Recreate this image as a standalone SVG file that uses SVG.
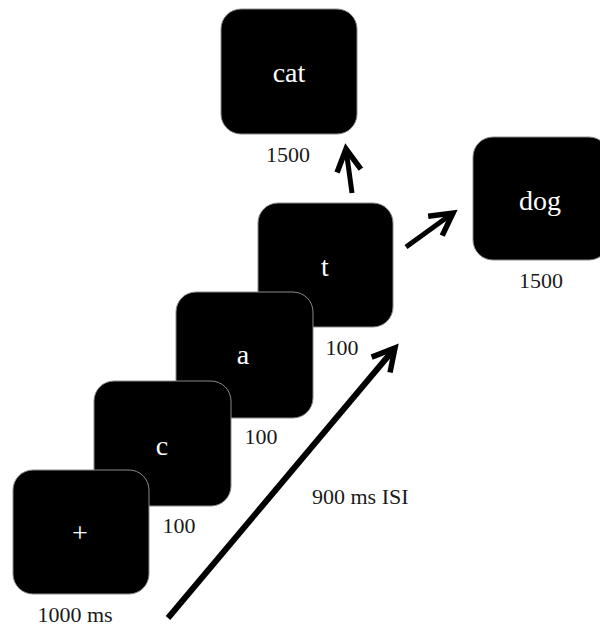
<svg xmlns="http://www.w3.org/2000/svg" width="600" height="627" viewBox="0 0 600 627">
  <style>
    .screen { fill: #000; stroke: #8a8a8a; stroke-width: 1; }
    .stim { font-family: "Liberation Serif", "Times New Roman", serif; font-size: 28px; fill: #fff; text-anchor: middle; }
    .dur { font-family: "Liberation Serif", "Times New Roman", serif; font-size: 22px; fill: #1a1a1a; text-anchor: middle; }
    .conn { stroke: #000; fill: none; stroke-linecap: butt; }
  </style>
  <defs>
    <marker id="chevron" markerUnits="userSpaceOnUse" viewBox="-30 -16 40 32" refX="0" refY="0" markerWidth="40" markerHeight="32" orient="auto" overflow="visible">
      <path d="M-22,-12 L0,0 L-22,12" fill="none" stroke="#000" stroke-width="5.5" stroke-linejoin="miter" stroke-miterlimit="10"/>
    </marker>
  </defs>
  <rect width="600" height="627" fill="#fff"/>

  <!-- final screens -->
  <g id="node-cat">
    <rect class="screen" x="221" y="9" width="136" height="125" rx="20"/>
    <text class="stim" x="289" y="82">cat</text>
    <text class="dur" x="288" y="162">1500</text>
  </g>
  <g id="node-dog">
    <rect class="screen" x="473" y="137" width="136" height="123" rx="20"/>
    <text class="stim" x="540" y="210">dog</text>
    <text class="dur" x="541" y="288">1500</text>
  </g>

  <!-- letter sequence, drawn back to front -->
  <g id="node-t">
    <rect class="screen" x="258" y="203" width="135" height="124" rx="20"/>
    <text class="stim" x="325" y="276">t</text>
    <text class="dur" x="342" y="355">100</text>
  </g>
  <g id="node-a">
    <rect class="screen" x="176" y="292" width="137" height="126" rx="20"/>
    <text class="stim" x="243" y="364">a</text>
    <text class="dur" x="261" y="444">100</text>
  </g>
  <g id="node-c">
    <rect class="screen" x="94" y="381" width="137" height="125" rx="20"/>
    <text class="stim" x="162" y="455">c</text>
    <text class="dur" x="179" y="533">100</text>
  </g>
  <g id="node-fixation">
    <rect class="screen" x="13" y="470" width="136" height="124" rx="20"/>
    <text class="stim" x="80" y="542">+</text>
    <text class="dur" x="75" y="622">1000 ms</text>
  </g>

  <!-- connectors -->
  <g id="connectors">
    <line class="conn" x1="168" y1="618" x2="395" y2="348" stroke-width="6" marker-end="url(#chevron)"/>
    <line class="conn" x1="352" y1="193" x2="346" y2="149" stroke-width="5" marker-end="url(#chevron)"/>
    <line class="conn" x1="406" y1="247" x2="453" y2="213" stroke-width="5" marker-end="url(#chevron)"/>
    <text class="dur" x="312" y="504" text-anchor="start" style="text-anchor:start">900 ms ISI</text>
  </g>
</svg>
